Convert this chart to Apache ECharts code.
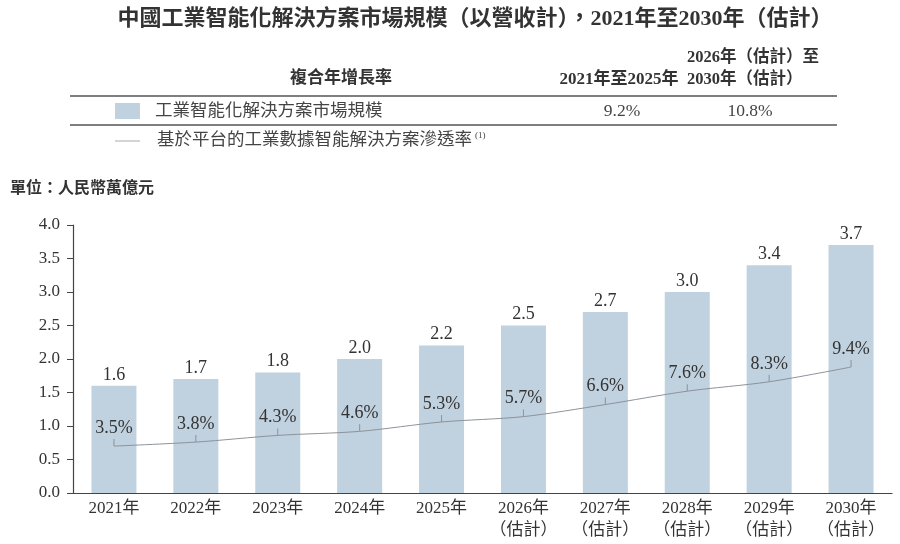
<!DOCTYPE html>
<html>
<head>
<meta charset="utf-8">
<script src="https://cdn.jsdelivr.net/npm/echarts@6/dist/echarts.min.js"></script>
<style>
  html, body { margin: 0; padding: 0; background: #fff; }
  #chart { width: 900px; height: 544px; }
</style>
</head>
<body>
<div id="chart"></div>
<script>
// Market size (RMB trillion) and platform-based penetration rate (%), 2021–2030E.
const years = ['2021年', '2022年', '2023年', '2024年', '2025年',
  '2026年\n（估計）', '2027年\n（估計）', '2028年\n（估計）', '2029年\n（估計）', '2030年\n（估計）'];
const marketSize = [1.6, 1.7, 1.8, 2.0, 2.2, 2.5, 2.7, 3.0, 3.4, 3.7];
const penetration = [3.5, 3.8, 4.3, 4.6, 5.3, 5.7, 6.6, 7.6, 8.3, 9.4];
const cagrLabels = ['9.2%', '10.8%'];

const SERIF = '"Liberation Serif", "Noto Sans CJK TC", serif';
const TXT = '#333';
const BAR = '#c0d1df';
const LINE = '#8c939b';

const chart = echarts.init(document.getElementById('chart'));

const txt = (x, y, text, opts = {}) => ({
  type: 'text', x, y,
  style: Object.assign({ text, fill: TXT, font: `17.5px ${SERIF}`, textAlign: 'left', textVerticalAlign: 'middle' }, opts),
});
const hline = (y) => ({ type: 'line', shape: { x1: 70, y1: y, x2: 837, y2: y }, style: { stroke: '#555', lineWidth: 1.5 } });

chart.setOption({
  animation: false,
  textStyle: { fontFamily: SERIF },
  grid: { left: 73, right: 8, top: 225, bottom: 51 },
  xAxis: {
    type: 'category', data: years,
    axisTick: { show: false },
    axisLine: { lineStyle: { color: '#444', width: 1.2 } },
    axisLabel: { color: TXT, fontSize: 17, lineHeight: 22, margin: 5, interval: 0, fontFamily: SERIF },
  },
  yAxis: [
    {
      type: 'value', min: 0, max: 4, interval: 0.5,
      axisLine: { show: true, lineStyle: { color: '#444', width: 1.2 } },
      axisTick: { show: true, length: 6, lineStyle: { color: '#444' } },
      splitLine: { show: false },
      axisLabel: { color: TXT, fontSize: 17, margin: 13, fontFamily: SERIF, formatter: (v) => v.toFixed(1) },
    },
    { type: 'value', min: 0, max: 20, show: false, splitLine: { show: false } },
  ],
  series: [
    {
      name: '工業智能化解決方案市場規模', type: 'bar', data: marketSize, barWidth: 45,
      itemStyle: { color: BAR },
      label: { show: true, position: 'top', distance: 2, color: TXT, fontSize: 18, fontFamily: SERIF, formatter: (p) => p.value.toFixed(1) },
    },
    {
      name: '基於平台的工業數據智能解決方案滲透率', type: 'line', yAxisIndex: 1, data: penetration,
      smooth: 0.3, lineStyle: { color: LINE, width: 1 },
      symbol: 'rect', symbolSize: [1, 7], symbolOffset: [0, -3.5],
      itemStyle: { color: LINE },
      label: { show: true, position: 'top', distance: 2, color: TXT, fontSize: 18, fontFamily: SERIF, formatter: (p) => p.value.toFixed(1) + '%' },
    },
  ],
  graphic: [
    txt(475, 19, '中國工業智能化解決方案市場規模（以營收計），2021年至2030年（估計）', { textAlign: 'center', font: `bold 22px ${SERIF}` }),
    txt(341, 79, '複合年增長率', { textAlign: 'center', font: `bold 17px ${SERIF}` }),
    txt(619, 80, '2021年至2025年', { textAlign: 'center', font: `bold 17px ${SERIF}` }),
    txt(687, 58, '2026年（估計）至', { font: `bold 16.5px ${SERIF}` }),
    txt(687, 80, '2030年（估計）', { font: `bold 16.5px ${SERIF}` }),
    hline(96),
    { type: 'rect', shape: { x: 115, y: 103, width: 25, height: 16 }, style: { fill: BAR } },
    txt(155, 111, '工業智能化解決方案市場規模', { fill: '#444' }),
    txt(622, 111, cagrLabels[0], { textAlign: 'center', fill: '#444' }),
    txt(750, 111, cagrLabels[1], { textAlign: 'center', fill: '#444' }),
    hline(125),
    { type: 'line', shape: { x1: 115, y1: 141, x2: 140, y2: 141 }, style: { stroke: '#aaa', lineWidth: 1 } },
    txt(157, 140, '基於平台的工業數據智能解決方案滲透率', { fill: '#444' }),
    txt(475, 136, '(1)', { font: `9px ${SERIF}`, fill: '#444' }),
    txt(10, 189, '單位：人民幣萬億元', { font: `bold 16px ${SERIF}` }),
  ],
});
</script>
</body>
</html>
